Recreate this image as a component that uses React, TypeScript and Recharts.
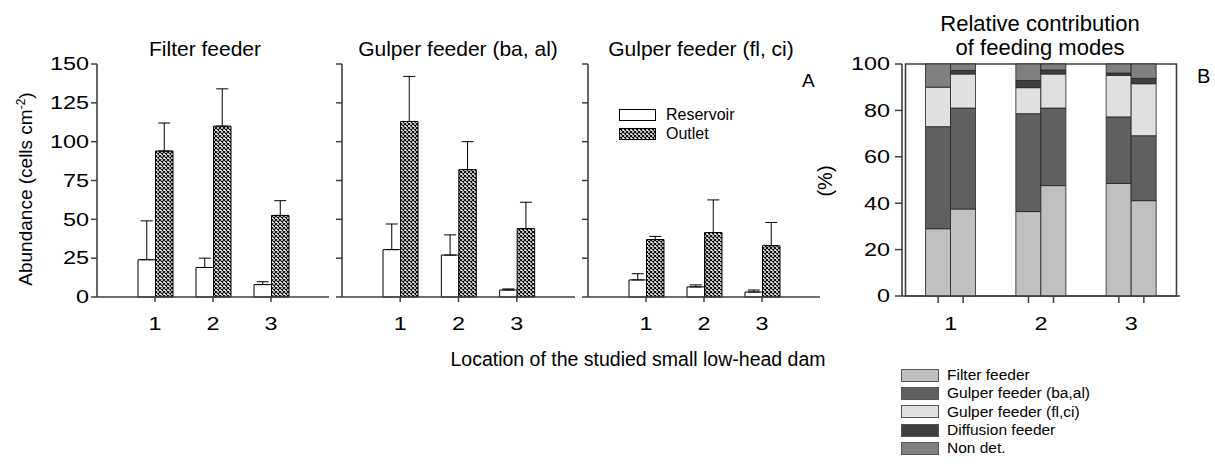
import React from 'react';
import { BarChart, Bar, XAxis, YAxis, ErrorBar, Legend, ReferenceArea } from 'recharts';

const FONT = '"Liberation Sans", Arial, Helvetica, sans-serif';
const INK = '#404040';

// --- panel A: abundance (mean + upper SD) per dam location
const sites = ['1', '2', '3'];
const seriesNames = ['Reservoir', 'Outlet'];
const abundanceTicks = [0, 25, 50, 75, 100, 125, 150];

const filterReservoir = [24, 19, 8];
const filterReservoirSd = [25, 6, 1.8];
const filterOutlet = [94, 110, 52.5];
const filterOutletSd = [18, 24, 9.5];

const gulperBaReservoir = [30.5, 27, 4.5];
const gulperBaReservoirSd = [16.5, 13, 0.7];
const gulperBaOutlet = [113, 82, 44];
const gulperBaOutletSd = [29, 18, 17];

const gulperFlReservoir = [11, 6.5, 3.2];
const gulperFlReservoirSd = [4, 1.3, 1.3];
const gulperFlOutlet = [37, 41.5, 33];
const gulperFlOutletSd = [2, 21, 15];

// --- panel B: relative contribution (%) of feeding modes
const percentTicks = [0, 20, 40, 60, 80, 100];
const modes = ['Filter feeder', 'Gulper feeder (ba,al)', 'Gulper feeder (fl,ci)', 'Diffusion feeder', 'Non det.'];
const modeKeys = ['filter', 'gulperBa', 'gulperFl', 'diffusion', 'nonDet'];
const modeColors = ['#c0c0c0', '#606060', '#e0e0e0', '#404040', '#808080'];

const filterShareRes = [29, 36.4, 48.5];
const filterShareOut = [37.5, 47.6, 41.1];
const gulperBaShareRes = [44, 42.2, 28.7];
const gulperBaShareOut = [43.5, 33.4, 28];
const gulperFlShareRes = [17, 11.2, 17.9];
const gulperFlShareOut = [14.7, 14.7, 22.4];
const diffusionShareRes = [0, 3.1, 1];
const diffusionShareOut = [1.5, 1.7, 2.3];
const nonDetShareRes = [10, 7.1, 3.9];
const nonDetShareOut = [2.8, 2.6, 6.2];

const SHARE_BAR = 25;

function abundanceRows(res: number[], resSd: number[], out: number[], outSd: number[]) {
  return sites.map((site, i) => ({
    site,
    res: res[i],
    resErr: [0, resSd[i]],
    out: out[i],
    outErr: [0, outSd[i]],
  }));
}

const filterRows = abundanceRows(filterReservoir, filterReservoirSd, filterOutlet, filterOutletSd);
const gulperBaRows = abundanceRows(gulperBaReservoir, gulperBaReservoirSd, gulperBaOutlet, gulperBaOutletSd);
const gulperFlRows = abundanceRows(gulperFlReservoir, gulperFlReservoirSd, gulperFlOutlet, gulperFlOutletSd);

const shareRes = [filterShareRes, gulperBaShareRes, gulperFlShareRes, diffusionShareRes, nonDetShareRes];
const shareOut = [filterShareOut, gulperBaShareOut, gulperFlShareOut, diffusionShareOut, nonDetShareOut];

const shareRows = sites.map((site, i) => {
  const row: any = { site };
  modeKeys.forEach((k, m) => {
    row[k + 'Res'] = shareRes[m][i];
    row[k + 'Out'] = shareOut[m][i];
  });
  return row;
});

function Hatch({ id }: { id: string }) {
  return (
    <pattern id={id} width={4} height={4} patternUnits="userSpaceOnUse">
      <rect width={4} height={4} fill="#fff" />
      <path d="M0,0L4,4M4,0L0,4" stroke="#000" strokeWidth={1.1} />
    </pattern>
  );
}

// tick labels in the source are drawn a bit wide
function ValueTick(props: any) {
  const { x, y, payload, show = true } = props;
  if (!show) return null;
  return (
    <text
      transform={`translate(${x} ${y + 6.3}) scale(1.3 1)`}
      textAnchor="end"
      fontFamily={FONT}
      fontSize={18}
      fill="#000"
    >
      {payload.value}
    </text>
  );
}

function SiteTick(props: any) {
  const { x, y, payload } = props;
  return (
    <text transform={`translate(${x} ${y + 28}) scale(1.3 1)`} textAnchor="middle" fontFamily={FONT} fontSize={18} fill="#000">
      {payload.value}
    </text>
  );
}

function PairTick(props: any) {
  const { x, y, payload } = props;
  const h = SHARE_BAR / 2;
  return (
    <g>
      <line x1={x - h} x2={x - h} y1={y} y2={y + 7} stroke={INK} strokeWidth={1.5} />
      <line x1={x + h} x2={x + h} y1={y} y2={y + 7} stroke={INK} strokeWidth={1.5} />
      <text transform={`translate(${x} ${y + 34}) scale(1.3 1)`} textAnchor="middle" fontFamily={FONT} fontSize={18} fill="#000">
        {payload.value}
      </text>
    </g>
  );
}

function SeriesLegend({ payload }: any) {
  const items = [...(payload || [])].sort(
    (a: any, b: any) => seriesNames.indexOf(a.value) - seriesNames.indexOf(b.value)
  );
  return (
    <div style={{ fontFamily: FONT, fontSize: 16, color: '#000' }}>
      {items.map((p: any) => (
        <div key={p.value} style={{ display: 'flex', alignItems: 'center', height: 19 }}>
          <svg width={37} height={12} style={{ marginRight: 10 }}>
            <rect x={0.5} y={0.5} width={36} height={11} fill={p.color} stroke="#000" />
          </svg>
          {p.value}
        </div>
      ))}
    </div>
  );
}

function ModeLegend() {
  return (
    <div style={{ fontFamily: FONT, fontSize: 15.5, color: '#000' }}>
      {modes.map((name, i) => (
        <div key={name} style={{ display: 'flex', alignItems: 'center', height: 18.3 }}>
          <svg width={38} height={13} style={{ marginRight: 8 }}>
            <rect x={0.5} y={0.5} width={37} height={12} fill={modeColors[i]} stroke="#555" />
          </svg>
          {name}
        </div>
      ))}
    </div>
  );
}

function AbundancePanel({ rows, left, width, showValues = false, hatchId, withLegend = false }: any) {
  return (
    <div style={{ position: 'absolute', left, top: 0 }}>
      <BarChart
        width={width}
        height={350}
        data={rows}
        margin={{ top: 64, right: 0, bottom: 23, left: 0 }}
        barGap={0}
        barSize={17.5}
      >
        <defs>
          <Hatch id={hatchId} />
        </defs>
        <XAxis
          dataKey="site"
          height={30}
          padding={{ left: 29, right: 29 }}
          interval={0}
          tickSize={5}
          tickMargin={0}
          stroke={INK}
          axisLine={{ stroke: INK, strokeWidth: 1.6 }}
          tickLine={{ stroke: INK, strokeWidth: 1.5 }}
          tick={<SiteTick />}
        />
        <YAxis
          width={97}
          domain={[0, 150]}
          ticks={abundanceTicks}
          interval={0}
          tickSize={6}
          tickMargin={2}
          stroke={INK}
          axisLine={{ stroke: INK, strokeWidth: 1.6 }}
          tickLine={{ stroke: INK, strokeWidth: 1.5 }}
          tick={<ValueTick show={showValues} />}
        />
        <Bar dataKey="res" name={seriesNames[0]} fill="#fff" stroke="#000" strokeWidth={1} isAnimationActive={false}>
          <ErrorBar dataKey="resErr" width={6} stroke="#000" strokeWidth={1} />
        </Bar>
        <Bar dataKey="out" name={seriesNames[1]} fill={`url(#${hatchId})`} stroke="#000" strokeWidth={1} isAnimationActive={false}>
          <ErrorBar dataKey="outErr" width={6} stroke="#000" strokeWidth={1} />
        </Bar>
        {withLegend && (
          <Legend
            layout="vertical"
            align="center"
            verticalAlign="middle"
            content={(p: any) => <SeriesLegend payload={p.payload} />}
            wrapperStyle={{ top: 105, left: 128, width: 160 }}
          />
        )}
      </BarChart>
    </div>
  );
}

function SharePanel() {
  return (
    <div style={{ position: 'absolute', left: 842, top: 0 }}>
      <BarChart
        width={338}
        height={464}
        data={shareRows}
        margin={{ top: 64, right: 0, bottom: 138, left: 0 }}
        barGap={0}
        barSize={SHARE_BAR}
      >
        <XAxis
          dataKey="site"
          height={30}
          padding={{ left: 3.5, right: 3.5 }}
          interval={0}
          tickSize={0}
          tickMargin={0}
          tickLine={false}
          stroke={INK}
          axisLine={{ stroke: INK, strokeWidth: 1.6 }}
          tick={<PairTick />}
        />
        <YAxis
          width={60}
          domain={[0, 100]}
          ticks={percentTicks}
          interval={0}
          tickSize={7}
          tickMargin={5}
          stroke={INK}
          axisLine={{ stroke: INK, strokeWidth: 1.6 }}
          tickLine={{ stroke: INK, strokeWidth: 1.5 }}
          tick={<ValueTick />}
        />
        {modeKeys.map((k, i) => (
          <Bar key={k + 'Res'} dataKey={k + 'Res'} name={modes[i]} stackId="res" fill={modeColors[i]} stroke="#222" strokeWidth={0.8} isAnimationActive={false} />
        ))}
        {modeKeys.map((k, i) => (
          <Bar key={k + 'Out'} dataKey={k + 'Out'} name={modes[i]} stackId="out" fill={modeColors[i]} stroke="#222" strokeWidth={0.8} legendType="none" isAnimationActive={false} />
        ))}
        <ReferenceArea y1={0} y2={100} fill="none" stroke={INK} strokeWidth={1.6} />
        <Legend
          layout="vertical"
          align="center"
          verticalAlign="middle"
          content={() => <ModeLegend />}
          wrapperStyle={{ top: 366, left: 59, width: 260 }}
        />
      </BarChart>
    </div>
  );
}

export default function App() {
  return (
    <div style={{ position: 'absolute', left: 0, top: 0, width: 1215, height: 464, background: '#fff', overflow: 'hidden' }}>
      <AbundancePanel rows={filterRows} left={0} width={329} showValues hatchId="hatch-a1" />
      <AbundancePanel rows={gulperBaRows} left={245} width={330} hatchId="hatch-a2" />
      <AbundancePanel rows={gulperFlRows} left={491} width={329} hatchId="hatch-a3" withLegend />
      <SharePanel />
      <svg width={1215} height={464} style={{ position: 'absolute', left: 0, top: 0, pointerEvents: 'none' }} fontFamily={FONT} fill="#000">
        <text x={205} y={56} fontSize={21} textAnchor="middle">Filter feeder</text>
        <text x={458} y={56} fontSize={21} textAnchor="middle">Gulper feeder (ba, al)</text>
        <text x={701} y={56} fontSize={21} textAnchor="middle">Gulper feeder (fl, ci)</text>
        <text x={802} y={87} fontSize={19}>A</text>
        <text x={1040} y={31} fontSize={22} textAnchor="middle">Relative contribution</text>
        <text x={1040} y={55} fontSize={22} textAnchor="middle">of feeding modes</text>
        <text x={1197} y={83} fontSize={20}>B</text>
        <text x={638} y={366} fontSize={19.5} textAnchor="middle">Location of the studied small low-head dam</text>
        <text transform="translate(32 189) rotate(-90)" fontSize={19} textAnchor="middle">
          Abundance (cells cm<tspan baselineShift="super" fontSize={12}>-2</tspan><tspan>)</tspan>
        </text>
        <text transform="translate(832 181) rotate(-90)" fontSize={20} textAnchor="middle">(%)</text>
      </svg>
    </div>
  );
}
